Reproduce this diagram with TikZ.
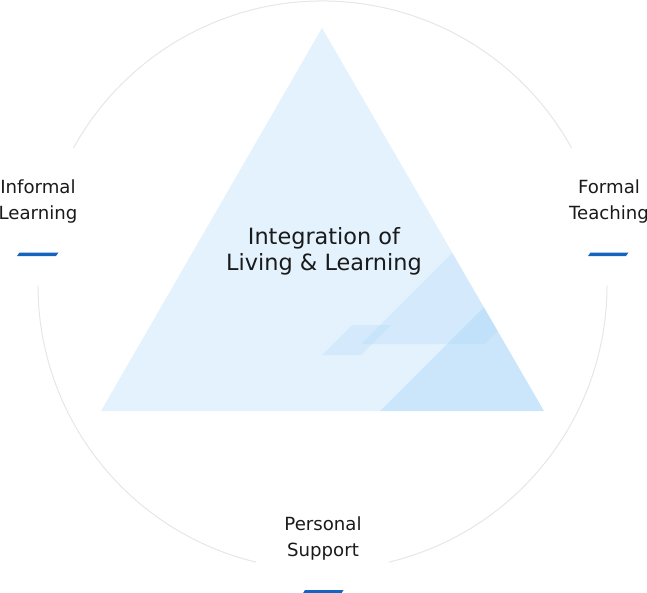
\documentclass[tikz,border=0pt]{standalone}
\usepackage{fontspec}
\setmainfont{DejaVu Sans}
\definecolor{tribase}{HTML}{E3F2FD}
\definecolor{triover}{HTML}{90CAF9}
\definecolor{ringgray}{HTML}{E6E6E6}
\definecolor{dashblue}{HTML}{1565C0}
\definecolor{txt}{HTML}{1A1A1A}
\tikzset{
  ring/.style={draw=ringgray, line width=0.75pt},
  overlay/.style={fill=triover, fill opacity=#1, draw=none},
  bluedash/.style={fill=dashblue, draw=none},
  lbl/.style={align=center, text=txt, font=\fontsize{13.6}{19.5}\selectfont, inner sep=0pt},
  mainlbl/.style={align=center, text=txt, font=\fontsize{16.8}{19.5}\selectfont, inner sep=0pt}
}
\begin{document}
\begin{tikzpicture}[x=0.75pt, y=-0.75pt]
\useasboundingbox (0,0) rectangle (647,593);
% ring arcs (center 322.5,285.5 radius 284.5)
\coordinate (c) at (322.5,285.5);
\draw[ring] ([shift={(28.9:284.5 and -284.5)}]c) arc[start angle=28.9, end angle=151.1, x radius=284.5, y radius=-284.5];
\draw[ring] ([shift={(180:284.5 and -284.5)}]c) arc[start angle=180, end angle=256.5, x radius=284.5, y radius=-284.5];
\draw[ring] ([shift={(283.5:284.5 and -284.5)}]c) arc[start angle=283.5, end angle=360, x radius=284.5, y radius=-284.5];
% triangle
\coordinate (apex) at (322,28);
\coordinate (bl) at (101,411);
\coordinate (br) at (544,411);
\fill[tribase] (apex) -- (bl) -- (br) -- cycle;
\begin{scope}
\clip (apex) -- (bl) -- (br) -- cycle;
\fill[overlay=0.18] (361,344) -- (485,344) -- (605,224) -- (481,224) -- cycle;
\fill[overlay=0.28] (380,411) -- (560,231) -- (600,231) -- (600,411) -- cycle;
\fill[overlay=0.18] (322,355) -- (352,325) -- (391,325) -- (361,355) -- cycle;
\end{scope}
% labels
\node[mainlbl] (main) at (324,251) {Integration of\\Living \& Learning};
\node[lbl] (inf) at (38,201) {Informal\\Learning};
\node[lbl] (form) at (609,201) {Formal\\Teaching};
\node[lbl] (pers) at (323,538) {Personal\\Support};
% blue dashes
\fill[bluedash] (17,256) -- (19.5,252.5) -- (58.5,252.5) -- (56,256) -- cycle;
\fill[bluedash] (588,256) -- (590.5,252.5) -- (628.5,252.5) -- (626,256) -- cycle;
\fill[bluedash] (302.5,594) -- (305,590) -- (343.5,590) -- (341,594) -- cycle;
\end{tikzpicture}
\end{document}
